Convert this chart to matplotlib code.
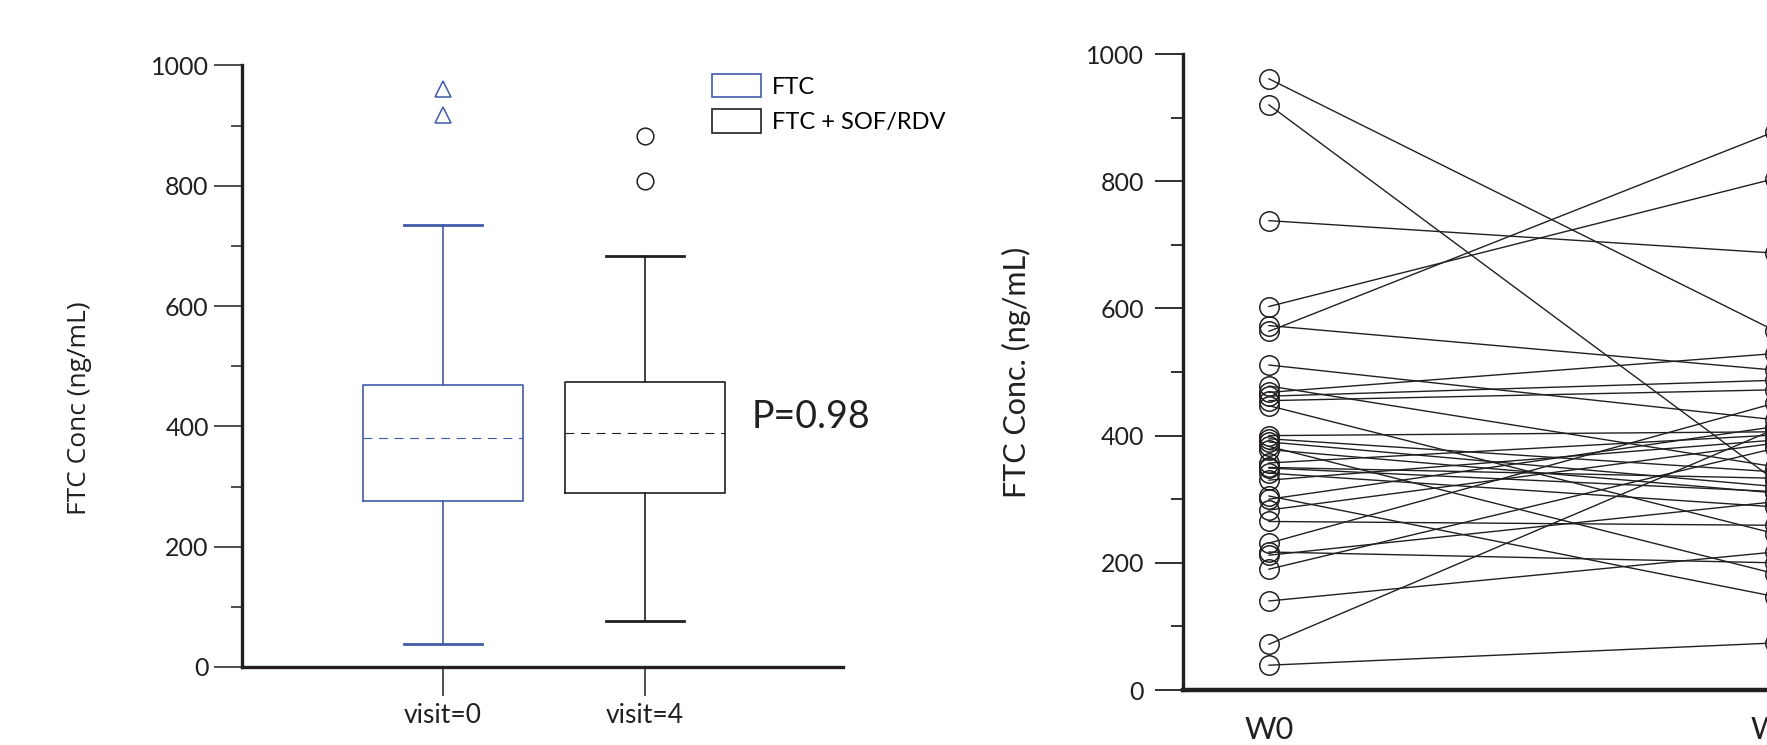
import matplotlib
matplotlib.use('Agg')
import matplotlib.pyplot as plt
from matplotlib.patches import Patch
from matplotlib.ticker import MultipleLocator

plt.rcParams['font.family'] = ['Lato', 'DejaVu Sans']

# ---- left panel: box plot stats (ng/mL) ----
groups = ['visit=0', 'visit=4']
legend_labels = ['FTC', 'FTC + SOF/RDV']
whislo = [38, 76]
q1 = [276, 289]
med = [380, 389]
q3 = [468, 473]
whishi = [735, 684]
fliers = [[960, 918], [883, 808]]
p_text = 'P=0.98'

# ---- right panel: paired W0 -> W4 values (ng/mL) ----
time_labels = ['W0', 'W4']
w0 = [961, 920, 738, 603, 573, 564, 511, 478, 468, 462, 455, 447, 400, 395,
      390, 383, 378, 357, 350, 349, 341, 330, 305, 300, 283, 265, 231, 217,
      212, 190, 140, 72, 39]
w4 = [565, 330, 687, 804, 503, 878, 425, 351, 529, 487, 472, 246, 406, 343,
      320, 183, 310, 401, 333, 312, 288, 393, 147, 414, 388, 259, 451, 200,
      296, 380, 217, 410, 74]

blue = '#3F5BA9'
dark = '#231F20'

fig = plt.figure(figsize=(17.67, 7.45), dpi=100)

# left axes
ax = fig.add_axes([0.137, 0.1047, 0.340, 0.8075])
colors = [blue, dark]
markers = ['^', 'o']
stats = []
for i in range(2):
    stats.append(dict(label=groups[i], whislo=whislo[i], q1=q1[i], med=med[i],
                      q3=q3[i], whishi=whishi[i], fliers=fliers[i]))
for i in range(2):
    c = colors[i]
    ax.bxp([stats[i]], positions=[i], widths=0.79, capwidths=0.39,
           boxprops=dict(color=c, linewidth=1.2),
           whiskerprops=dict(color=c, linewidth=1.2),
           capprops=dict(color=c, linewidth=2.0),
           medianprops=dict(color=c, linewidth=0.8, linestyle=(0, (8, 6))),
           flierprops=dict(marker=markers[i], markerfacecolor='none',
                           markeredgecolor=c, markersize=12, markeredgewidth=1.1))

ax.set_xlim(-0.995, 1.98)
ax.set_ylim(0, 1000)
ax.set_xticks([0, 1])
ax.set_xticklabels(groups, fontsize=19)
ax.yaxis.set_major_locator(MultipleLocator(200))
ax.yaxis.set_minor_locator(MultipleLocator(100))
ax.tick_params(axis='y', which='major', length=20, width=1.1, pad=4,
               labelsize=18, colors=dark)
ax.tick_params(axis='y', which='minor', length=8, width=1.1, colors=dark)
ax.tick_params(axis='x', length=21, width=1.1, pad=5, colors=dark)
for s in ['top', 'right']:
    ax.spines[s].set_visible(False)
for s in ['left', 'bottom']:
    ax.spines[s].set_linewidth(2.4)
    ax.spines[s].set_color(dark)
ax.set_ylabel('FTC Conc (ng/mL)', fontsize=19, family=['Open Sans', 'DejaVu Sans'],
              color=dark)
ax.yaxis.set_label_coords(-0.25, 0.43)

handles = [Patch(facecolor='white', edgecolor=c, linewidth=1.2) for c in colors]
ax.legend(handles, legend_labels, loc='upper left', bbox_to_anchor=(0.782, 0.986),
          frameon=False, fontsize=17, handlelength=2.1, handleheight=1.15,
          labelspacing=0.5, handletextpad=0.45, borderpad=0, borderaxespad=0)
ax.text(1.53, 415, p_text, fontsize=27, ha='left', va='center', color=dark)

# right axes (runs off the right edge of the figure)
ax2 = fig.add_axes([0.6695, 0.0738, 0.4207, 0.8537])
for a, b in zip(w0, w4):
    ax2.plot([0, 1], [a, b], color=dark, linewidth=1.0, zorder=2)
ax2.plot([0] * len(w0), w0, linestyle='none', marker='o', markersize=14,
         markerfacecolor='none', markeredgecolor=dark, markeredgewidth=1.1, zorder=3)
ax2.plot([1] * len(w4), w4, linestyle='none', marker='o', markersize=14,
         markerfacecolor='none', markeredgecolor=dark, markeredgewidth=1.1, zorder=3)
ax2.set_xlim(-0.170, 1.3)
ax2.set_ylim(0, 1000)
ax2.set_xticks([0, 1])
ax2.set_xticklabels(time_labels, fontsize=22)
ax2.yaxis.set_major_locator(MultipleLocator(200))
ax2.yaxis.set_minor_locator(MultipleLocator(100))
ax2.tick_params(axis='y', which='major', length=20, width=1.3, pad=8,
                labelsize=18, colors=dark)
ax2.tick_params(axis='y', which='minor', length=9, width=1.3, colors=dark)
ax2.tick_params(axis='x', length=0, pad=19, colors=dark)
for s in ['top', 'right']:
    ax2.spines[s].set_visible(False)
ax2.spines['left'].set_linewidth(2.4)
ax2.spines['bottom'].set_linewidth(3.2)
for s in ['left', 'bottom']:
    ax2.spines[s].set_color(dark)
ax2.set_ylabel('FTC Conc. (ng/mL)', fontsize=22, color=dark)
ax2.yaxis.set_label_coords(-0.205, 0.5)

fig.savefig('out.png', dpi=100)
